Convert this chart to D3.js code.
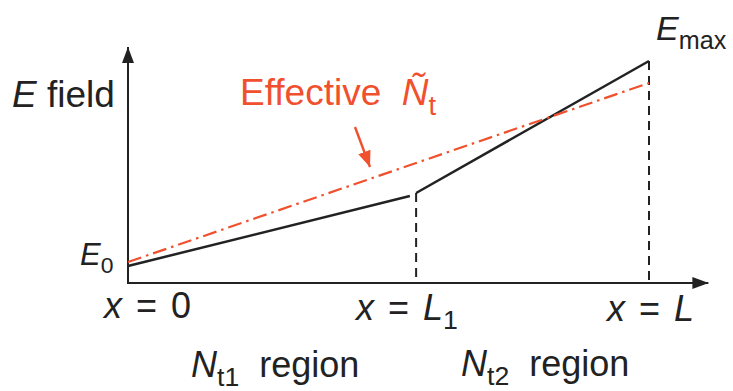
<!DOCTYPE html>
<html>
<head>
<meta charset="utf-8">
<script src="https://cdn.jsdelivr.net/npm/d3@7"></script>
<style>
  body { margin: 0; background: #fff; }
  svg { display: block; font-family: "Liberation Sans", Arial, sans-serif; }
</style>
</head>
<body>
<div id="chart"></div>
<script>
// schematic data (arbitrary units, x normalised to L = 1)
const L1 = 0.553;
const fieldX = [0, 0.541, L1, 1];        // black piecewise E field
const fieldE = [17, 87, 90, 222];
const effX = [0, 1];                     // effective Nt field
const effE = [21, 200];
const tickPos = [0, L1, 1];
const tickLabels = [["x", " = 0"], ["x", " = ", "L", "1"], ["x", " = ", "L"]];

const width = 733, height = 391;
const ink = '#222', red = '#f0502d';

const svg = d3.select('#chart').append('svg')
  .attr('width', width).attr('height', height);

const x = d3.scaleLinear().domain([0, 1]).range([128, 649]);
const y = d3.scaleLinear().domain([0, 240]).range([283, 43]);

// arrowheads
const defs = svg.append('defs');
function marker(id, color, w, h) {
  defs.append('marker')
    .attr('id', id).attr('viewBox', `0 0 ${w} ${h}`)
    .attr('refX', w).attr('refY', h / 2)
    .attr('markerWidth', w).attr('markerHeight', h)
    .attr('markerUnits', 'userSpaceOnUse')
    .attr('orient', 'auto')
    .append('path').attr('d', `M0,0L${w},${h / 2}L0,${h}Z`).attr('fill', color);
}
marker('ax', ink, 16, 12);
marker('ar', red, 16, 13);

// axes
svg.append('line')
  .attr('x1', x(0)).attr('y1', y(0)).attr('x2', x(0)).attr('y2', y(236))
  .attr('stroke', ink).attr('stroke-width', 2).attr('marker-end', 'url(#ax)');
svg.append('line')
  .attr('x1', x(0) - 1).attr('y1', y(0)).attr('x2', x(1.114)).attr('y2', y(0))
  .attr('stroke', ink).attr('stroke-width', 2).attr('marker-end', 'url(#ax)');

// dashed verticals at L1 and L
svg.selectAll('.drop')
  .data([[tickPos[1], fieldE[2]], [tickPos[2], fieldE[3]]])
  .enter().append('line')
  .attr('class', 'drop')
  .attr('x1', d => x(d[0])).attr('x2', d => x(d[0]))
  .attr('y1', d => y(d[1])).attr('y2', y(0))
  .attr('stroke', ink).attr('stroke-width', 2)
  .attr('stroke-dasharray', '9,6');

const line = d3.line().x(d => x(d[0])).y(d => y(d[1]));

// black E field (gap at the kink)
svg.append('path')
  .datum(d3.zip(fieldX, fieldE).slice(0, 2))
  .attr('d', line).attr('fill', 'none')
  .attr('stroke', ink).attr('stroke-width', 2.5);
svg.append('path')
  .datum(d3.zip(fieldX, fieldE).slice(2))
  .attr('d', line).attr('fill', 'none')
  .attr('stroke', ink).attr('stroke-width', 2.5);

// effective dash-dot
svg.append('path')
  .datum(d3.zip(effX, effE))
  .attr('d', line).attr('fill', 'none')
  .attr('stroke', red).attr('stroke-width', 2.2)
  .attr('stroke-dasharray', '14,5,2.5,5');

// red pointer arrow
svg.append('line')
  .attr('x1', 355).attr('y1', 127).attr('x2', 370).attr('y2', 167)
  .attr('stroke', red).attr('stroke-width', 2.4).attr('marker-end', 'url(#ar)');

// text helper: parts = [text, italic, sub]
function label(px, py, size, color, parts) {
  const t = svg.append('text').attr('x', px).attr('y', py)
    .attr('font-size', size).attr('fill', color)
    .attr('xml:space', 'preserve');
  let shifted = false;
  parts.forEach(p => {
    const s = t.append('tspan').text(p[0]);
    if (p[1]) s.attr('font-style', 'italic');
    if (p[2] && !shifted) { s.attr('dy', size * 0.26).attr('font-size', size * 0.74); shifted = true; }
    else if (p[2]) s.attr('font-size', size * 0.74);
    else if (shifted) { s.attr('dy', -size * 0.26); shifted = false; }
  });
  return t;
}

label(12, 107, 37, ink, [['E', 1], [' field']]);
label(240, 105, 37, red, [['Effective  '], ['Ñ', 1], ['t', 0, 1]]);
label(80, 265, 31, ink, [['E', 1], ['0', 0, 1]]);
label(656, 40, 34, ink, [['E', 1], ['max', 0, 1]]);

// x tick labels
const tickStart = [104, 356, 607];
const tickBase = [318, 320, 321];
tickLabels.forEach((lab, i) => {
  const parts = lab.map((s, j) => [s, s === 'x' || s === 'L', j === 3]);
  label(tickStart[i], tickBase[i], 36, ink, parts).attr('word-spacing', 4);
});

// region labels
label(191, 377, 36, ink, [['N', 1], ['t1', 0, 1], ['  region']]);
label(461, 376, 36, ink, [['N', 1], ['t2', 0, 1], ['  region']]);
</script>
</body>
</html>
